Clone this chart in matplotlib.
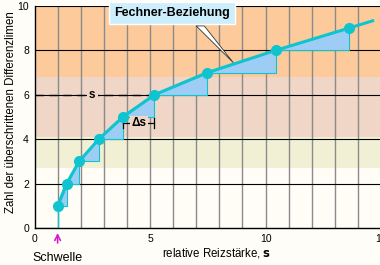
import matplotlib
matplotlib.use("Agg")
import matplotlib.pyplot as plt
from matplotlib.patches import Polygon

plt.rcParams["font.family"] = ["Liberation Sans", "DejaVu Sans"]

# Reizstärke s und Zahl der überschrittenen Differenzlimen
stimulus = [1.0, 1.39, 1.93, 2.78, 3.82, 5.19, 7.48, 10.44, 13.6]
steps = [1, 2, 3, 4, 5, 6, 7, 8, 9]
curve_end = (14.7, 9.35)
threshold = 1.0

band_edges = [0, 2.7, 4.1, 6.8, 10]
band_colors = ["#fffdf6", "#f2f0d4", "#efd6c6", "#fdcb9b"]

x_ticks = [0, 5, 10, 15]
y_ticks = [0, 2, 4, 6, 8, 10]

CYAN = "#10c4cf"
FILL = "#9dcdf4"

fig = plt.figure(figsize=(3.8, 2.65), dpi=100)
fig.patch.set_facecolor("#fffdf8")
ax = fig.add_axes([0.0908, 0.1396, 0.912, 0.838])
ax.set_xlim(0, 15)
ax.set_ylim(0, 10)

for lo, hi, c in zip(band_edges[:-1], band_edges[1:], band_colors):
    ax.axhspan(lo, hi, color=c, zorder=0, lw=0)

for xv in range(1, 16):
    ax.axvline(xv, color="#8a8a8a", lw=1.0, zorder=1)
for yv in y_ticks[1:]:
    ax.axhline(yv, color="black", lw=0.8, zorder=1)

# Stufen (Dreiecke zwischen den Punkten)
for i in range(len(stimulus) - 1):
    x0, x1 = stimulus[i], stimulus[i + 1]
    y0, y1 = steps[i], steps[i + 1]
    tri = Polygon([(x0, y0), (x1, y0), (x1, y1)], closed=True,
                  facecolor=FILL, edgecolor=CYAN, lw=0.8, zorder=2)
    ax.add_patch(tri)

# Schwelle: Grundlinie und senkrechter Anstieg
ax.plot([0, threshold, threshold], [0, 0, steps[0]], color=CYAN, lw=1.0, zorder=3)

ax.plot(stimulus + [curve_end[0]], steps + [curve_end[1]], color=CYAN, lw=2.2,
        zorder=4, solid_capstyle="butt")
ax.plot(stimulus, steps, "o", color=CYAN, ms=7, zorder=5)

# s und Δs
ax.plot([0, stimulus[5]], [steps[5], steps[5]], color="black", lw=1,
        dashes=(6, 4), zorder=3)
ax.text(2.5, steps[5], "s", ha="center", va="center", fontsize=8.5, fontweight="bold",
        bbox=dict(facecolor="#efd6c6", edgecolor="none", pad=1.5), zorder=4)
ymark = 4.72
ax.plot([stimulus[4], stimulus[5]], [ymark, ymark], color="black", lw=0.9, zorder=3)
for xv in (stimulus[4], stimulus[5]):
    ax.plot([xv, xv], [ymark - 0.22, ymark + 0.22], color="black", lw=0.9, zorder=3)
ax.text((stimulus[4] + stimulus[5]) / 2, ymark, "Δs", ha="center", va="center",
        fontsize=8.5, fontweight="bold",
        bbox=dict(facecolor="#efd6c6", edgecolor="none", pad=1), zorder=4)

# Beschriftungskasten
ax.text(5.95, 9.7, "Fechner-Beziehung", ha="center", va="center", fontsize=9,
        fontweight="bold", zorder=7, clip_on=False,
        bbox=dict(boxstyle="square,pad=0.4", facecolor="#cdeefc",
                  edgecolor="white", lw=1))
ptr = Polygon([(7.0, 9.1), (7.35, 9.1), (8.6, 7.45)], closed=True,
              facecolor="white", edgecolor="#333333", lw=0.6, zorder=6)
ax.add_patch(ptr)

for side in ("top", "right"):
    ax.spines[side].set_visible(False)
for side in ("left", "bottom"):
    ax.spines[side].set_linewidth(1.0)
    ax.spines[side].set_zorder(8)

ax.set_xticks(x_ticks)
ax.set_yticks(y_ticks)
ax.tick_params(length=0, labelsize=7.5, pad=4)

ax.set_ylabel("Zahl der überschrittenen Differenzlimen", fontsize=8.3)
ax.yaxis.set_label_coords(-0.05, 0.52)
ax.set_xlabel("relative Reizstärke, $\\mathbf{s}$", fontsize=8.3)
ax.xaxis.set_label_coords(0.527, -0.08)

ax.annotate("", xy=(threshold, -0.1), xytext=(threshold, -0.8),
            annotation_clip=False,
            arrowprops=dict(arrowstyle="->", color="#d81bc8", lw=1.2))
ax.text(threshold, -1.35, "Schwelle", ha="center", va="center", fontsize=9,
        clip_on=False)

fig.savefig("out.png", dpi=100)
